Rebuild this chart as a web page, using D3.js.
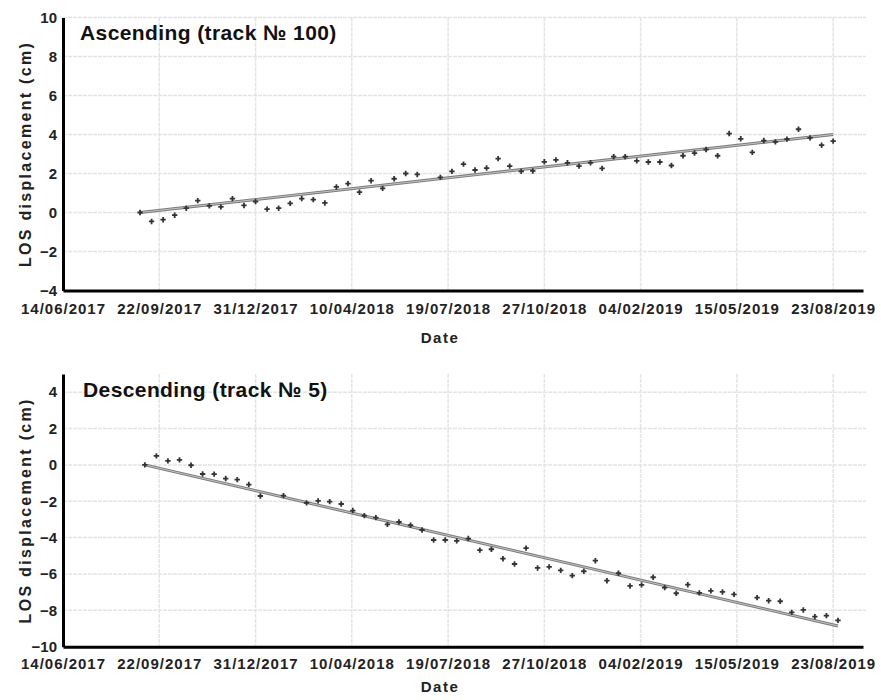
<!DOCTYPE html>
<html>
<head>
<meta charset="utf-8">
<script src="https://cdn.jsdelivr.net/npm/d3@7"></script>
<style>
  body { margin: 0; background: #fff; }
  text { font-family: "Liberation Sans", Arial, sans-serif; }
</style>
</head>
<body>
<svg id="chart"></svg>
<script>
// Ascending track 100, acquisition dates and LOS displacement (cm)
const ascDates = ["2017-09-02","2017-09-14","2017-09-26","2017-10-08","2017-10-20","2017-11-01","2017-11-13","2017-11-25","2017-12-07","2017-12-19","2017-12-31",
  "2018-01-12","2018-01-24","2018-02-05","2018-02-17","2018-03-01","2018-03-13","2018-03-25","2018-04-06","2018-04-18","2018-04-30","2018-05-12","2018-05-24","2018-06-05","2018-06-17",
  "2018-07-11","2018-07-23","2018-08-04","2018-08-16","2018-08-28","2018-09-09","2018-09-21","2018-10-03","2018-10-15","2018-10-27","2018-11-08","2018-11-20","2018-12-02","2018-12-14","2018-12-26",
  "2019-01-07","2019-01-19","2019-01-31","2019-02-12","2019-02-24","2019-03-08","2019-03-20","2019-04-01","2019-04-13","2019-04-25","2019-05-07","2019-05-19","2019-05-31","2019-06-12","2019-06-24","2019-07-06","2019-07-18","2019-07-30","2019-08-11","2019-08-23"];
const ascValues = [0, -0.46, -0.37, -0.14, 0.22, 0.61, 0.34, 0.29, 0.71, 0.36, 0.56,
  0.17, 0.22, 0.47, 0.71, 0.66, 0.49, 1.31, 1.48, 1.04, 1.63, 1.24, 1.73, 2.00, 1.95,
  1.80, 2.11, 2.48, 2.18, 2.28, 2.76, 2.38, 2.11, 2.13, 2.60, 2.70, 2.55, 2.38, 2.55, 2.26,
  2.86, 2.86, 2.65, 2.59, 2.59, 2.41, 2.91, 3.05, 3.23, 2.91, 4.05, 3.78, 3.08, 3.69, 3.62, 3.76, 4.27, 3.83, 3.45, 3.66];
const ascTrendDates = ["2017-09-02", "2019-08-23"];
const ascTrend = [0, 4.0];

// Descending track 5
const descDates = ["2017-09-07","2017-09-19","2017-10-01","2017-10-13","2017-10-25","2017-11-06","2017-11-18","2017-11-30","2017-12-12","2017-12-24",
  "2018-01-05","2018-01-29","2018-02-22","2018-03-06","2018-03-18","2018-03-30","2018-04-11","2018-04-23","2018-05-05","2018-05-17","2018-05-29","2018-06-10","2018-06-22",
  "2018-07-04","2018-07-16","2018-07-28","2018-08-09","2018-08-21","2018-09-02","2018-09-14","2018-09-26","2018-10-08","2018-10-20","2018-11-01","2018-11-13","2018-11-25","2018-12-07","2018-12-19","2018-12-31",
  "2019-01-12","2019-01-24","2019-02-05","2019-02-17","2019-03-01","2019-03-13","2019-03-25","2019-04-06","2019-04-18","2019-04-30","2019-05-12",
  "2019-06-05","2019-06-17","2019-06-29","2019-07-11","2019-07-23","2019-08-04","2019-08-16","2019-08-28"];
const descValues = [0, 0.50, 0.22, 0.28, -0.02, -0.50, -0.51, -0.75, -0.81, -1.08,
  -1.71, -1.69, -2.09, -1.98, -2.02, -2.15, -2.51, -2.79, -2.90, -3.27, -3.14, -3.32, -3.58,
  -4.13, -4.13, -4.18, -4.05, -4.69, -4.64, -5.16, -5.45, -4.58, -5.67, -5.61, -5.80, -6.09, -5.85, -5.27, -6.37,
  -5.96, -6.66, -6.60, -6.18, -6.75, -7.06, -6.59, -7.04, -6.93, -6.99, -7.12,
  -7.30, -7.47, -7.50, -8.11, -7.98, -8.35, -8.29, -8.55];
const descTrendDates = ["2017-09-07", "2019-08-28"];
const descTrend = [0, -8.86];

// axis ticks
const xTickLabels = ["14/06/2017","22/09/2017","31/12/2017","10/04/2018","19/07/2018","27/10/2018","04/02/2019","15/05/2019","23/08/2019"];
const ascYTicks = [-4, -2, 0, 2, 4, 6, 8, 10];
const descYTicks = [-10, -8, -6, -4, -2, 0, 2, 4];

const parseIso = d3.utcParse("%Y-%m-%d");
const parseTick = d3.utcParse("%d/%m/%Y");

const svg = d3.select("#chart").attr("width", 881).attr("height", 700);

const x = d3.scaleUtc()
  .domain([parseTick("14/06/2017"), parseIso("2019-09-23")])
  .range([63, 863]);

function drawPanel(opts) {
  const y = d3.scaleLinear().domain(opts.yDomain).range(opts.yRange);
  const g = svg.append("g");
  const top = opts.yRange[1], bottom = opts.yRange[0];

  // grid
  g.selectAll(".hgrid").data(opts.yTicks.filter(v => v !== opts.yDomain[0]))
    .enter().append("line")
    .attr("x1", x.range()[0]).attr("x2", x.range()[1] + 3)
    .attr("y1", d => y(d)).attr("y2", d => y(d))
    .attr("stroke", "#e4e4e4").attr("stroke-width", 1.5).attr("stroke-dasharray", "4,1");

  g.selectAll(".vgrid").data(xTickLabels.slice(1))
    .enter().append("line")
    .attr("x1", d => x(parseTick(d))).attr("x2", d => x(parseTick(d)))
    .attr("y1", top).attr("y2", bottom)
    .attr("stroke", "#e4e4e4").attr("stroke-width", 1.5).attr("stroke-dasharray", "4,1");

  // trend line
  const trend = opts.trendDates.map((d, i) => [parseIso(d), opts.trend[i]]);
  const line = d3.line().x(d => x(d[0])).y(d => y(d[1]));
  g.append("path").datum(trend).attr("d", line)
    .attr("fill", "none").attr("stroke", "#7a7a7a").attr("stroke-width", 3);
  g.append("path").datum(trend).attr("d", line)
    .attr("fill", "none").attr("stroke", "#c4c4c4").attr("stroke-width", 1);

  // points
  const sym = d3.symbol(d3.symbolCross, 16);
  g.selectAll(".pt").data(opts.dates)
    .enter().append("path")
    .attr("d", sym)
    .attr("transform", (d, i) => `translate(${x(parseIso(d))},${y(opts.values[i])})`)
    .attr("fill", "#333");

  // y axis
  const yAxis = g.append("g")
    .attr("transform", `translate(${x.range()[0]},0)`)
    .call(d3.axisLeft(y).tickValues(opts.yTicks).tickSize(0).tickPadding(6).tickFormat(d3.format("d")));
  yAxis.select(".domain").attr("stroke", "#000").attr("stroke-width", 3);
  yAxis.selectAll("text").attr("font-size", 15).attr("font-weight", "bold").attr("fill", "#222")
    .attr("font-family", "Liberation Sans, Arial, sans-serif");

  // x axis
  const xAxis = g.append("g")
    .attr("transform", `translate(0,${bottom})`)
    .call(d3.axisBottom(x).tickValues(xTickLabels.map(parseTick)).tickSize(0).tickPadding(opts.tickPad)
      .tickFormat((d, i) => xTickLabels[i]));
  xAxis.select(".domain").attr("stroke", "#000").attr("stroke-width", 3);
  xAxis.selectAll("text").attr("font-size", 15).attr("font-weight", "bold").attr("fill", "#222")
    .attr("letter-spacing", 1).attr("font-family", "Liberation Sans, Arial, sans-serif");

  // labels
  g.append("text")
    .attr("x", 440).attr("y", bottom + opts.dateOffset)
    .attr("text-anchor", "middle")
    .attr("font-size", 15).attr("font-weight", "bold").attr("letter-spacing", 1.5).attr("fill", "#222")
    .text("Date");

  g.append("text")
    .attr("transform", `translate(31,${(top + bottom) / 2}) rotate(-90)`)
    .attr("text-anchor", "middle")
    .attr("font-size", 16).attr("font-weight", "bold").attr("letter-spacing", 2.3).attr("fill", "#222")
    .text("LOS displacement (cm)");

  g.append("text")
    .attr("x", opts.titleX).attr("y", opts.titleY)
    .attr("font-size", 21).attr("font-weight", "bold").attr("letter-spacing", 0.4).attr("fill", "#111")
    .text(opts.title);
}

drawPanel({
  dates: ascDates, values: ascValues,
  trendDates: ascTrendDates, trend: ascTrend,
  yDomain: [-4, 10], yRange: [290.5, 17.5], yTicks: ascYTicks,
  title: "Ascending (track № 100)", titleX: 80, titleY: 40,
  tickPad: 13, dateOffset: 52
});

drawPanel({
  dates: descDates, values: descValues,
  trendDates: descTrendDates, trend: descTrend,
  yDomain: [-10, 5], yRange: [646.7, 374], yTicks: descYTicks,
  title: "Descending (track № 5)", titleX: 83, titleY: 397,
  tickPad: 12, dateOffset: 45
});
</script>
</body>
</html>
